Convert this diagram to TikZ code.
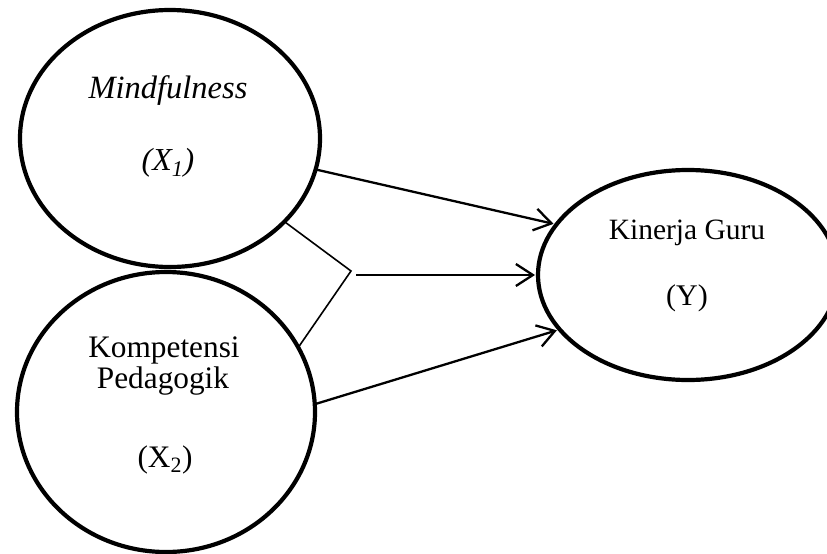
\documentclass[tikz,border=0pt]{standalone}
\usepackage{fontspec}
\setmainfont{Liberation Serif}
\usetikzlibrary{shapes.geometric,arrows.meta}
\begin{document}
\begin{tikzpicture}[x=1pt,y=-1pt,
  var/.style={draw,ellipse,line width=4.2pt,inner sep=0pt,outer sep=0pt},
  lbl/.style={anchor=base,inner sep=0pt,font=\fontsize{31.3}{36}\selectfont},
  path/.style={line width=2.3pt,-{Straight Barb[length=17pt,width=22pt,line width=2.3pt]},shorten >=3pt},
  thin/.style={line width=1.6pt}]
\useasboundingbox (0,0) rectangle (827,554);
\node[var,minimum width=300pt,minimum height=257pt] (x1) at (170,138.5) {};
\node[var,minimum width=298pt,minimum height=280pt] (x2) at (166,412) {};
\node[var,minimum width=300pt,minimum height=210pt] (y) at (688,275) {};
\node[lbl,font=\fontsize{32.5}{36}\selectfont] (t1) at (168,98) {\itshape Mindfulness};
\node[lbl,font=\fontsize{32}{36}\selectfont] (t2) at (168,170) {\itshape (X\textsubscript{1})};
\node[lbl] (t3) at (164,357) {Kompetensi};
\node[lbl] (t4) at (163,388) {Pedagogik};
\node[lbl] (t5) at (165,467) {(X\textsubscript{2})};
\node[lbl,font=\fontsize{29.5}{34}\selectfont] (t6) at (687,239) {Kinerja Guru};
\node[lbl,font=\fontsize{30}{34}\selectfont] (t7) at (687,305) {(Y)};
\coordinate (m) at (351,271);
\coordinate (s) at (356,275);
\draw[path] (x1.-12) -- (y.159);
\draw[path] (s) -- (y.west);
\draw[path] (x2.3) -- (y.-157);
\draw[thin,line join=miter] (x1.-36) -- (m) -- (x2.26);
\end{tikzpicture}
\end{document}
